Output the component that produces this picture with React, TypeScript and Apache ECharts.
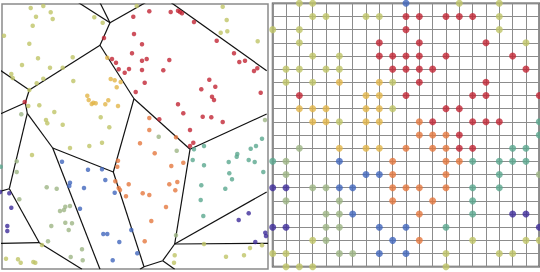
import React, { useEffect, useRef } from "react";
import * as echarts from "echarts";

// ---------- Left panel: clustered points (pixel-like data units) ----------
const leftYellowGreen: number[][] = [
  [30.7, 8], [43.3, 6], [50.7, 12.3], [36, 16.7], [52.7, 19], [32.7, 25.7], [4, 35.7], [29.3, 43.7],
  [38, 58.3], [22, 65], [50, 67.7], [62.7, 67.7], [72.7, 57.3], [11.3, 74], [12.7, 78], [43.3, 78.7],
  [36.7, 83.3], [73.3, 81], [29.3, 90], [28.3, 106], [39.3, 105.3], [94.3, 17.3], [102.7, 22.7],
  [54.3, 112], [46, 120], [47.3, 123.3], [62.7, 124.7], [100.7, 117.3], [109.3, 127.3],
  [222.7, 6.7], [226.7, 20], [220.7, 32.7], [227.3, 31.3], [257.7, 41.3], [136.7, 6],
  [32, 155], [70, 148], [89.3, 146], [102, 142.7], [42, 245], [6, 258.7], [18, 259.3], [20.7, 262.7],
  [33.3, 262], [35.3, 262.7], [204, 244], [226, 256.7], [244, 255.3], [250, 248], [262, 245.3],
  [174.7, 255.3], [174, 262.7]
];
const leftGold: number[][] = [
  [87.3, 95.7], [88.7, 100], [91.7, 104], [93.3, 102.7], [95.7, 103.3], [105.3, 104.3], [108.3, 100.3],
  [118, 106], [110.7, 79], [114.7, 80.3], [116.7, 87.3], [120.7, 82], [107.3, 57.7]
];
const leftRed: number[][] = [
  [133.3, 16.7], [149.3, 11.3], [170.7, 12], [178, 10.7], [180, 12], [182, 13.3], [194, 22], [134, 34],
  [104, 38], [142, 44.3], [132, 53.3], [142, 60.7], [146.7, 59], [112, 59], [116, 62.7], [169.3, 60],
  [118.7, 69.3], [124.7, 72.7], [129, 69], [142, 70], [163.3, 70.3], [144.7, 82.7], [135.7, 92],
  [216.7, 40.7], [234, 53.3], [239.3, 62], [245, 60.7], [254, 71], [257.3, 68.3], [209.3, 79.7],
  [215.3, 86.7], [201.3, 89.3], [212, 96.7], [214, 100], [260.7, 92.7], [178, 104.3], [183.3, 113.3],
  [202.7, 116.7], [211.3, 117.3], [222.7, 122], [159.3, 119.3], [190, 130], [24.7, 102],
  [190, 146], [193.3, 142.7]
];
const leftOrange: number[][] = [
  [149.3, 118], [149.3, 130], [140, 143.3], [154.7, 153.3], [118, 160.7], [117.3, 166.7], [115.3, 181.3],
  [118.7, 188], [120, 190], [126, 196.3], [128.7, 184.3], [142.7, 193.3], [149.3, 195], [171.3, 166],
  [169.3, 184.3], [177.3, 182], [175.3, 190.3], [166, 207], [151.3, 221], [144.7, 241.3], [183.3, 162.7],
  [176, 137.3]
];
const leftGrayGreen: number[][] = [
  [21.3, 114.3], [16.7, 161.3], [16.7, 172], [46.7, 187.3], [56.7, 188.7], [19.3, 199.3], [65.3, 206.7],
  [70, 206], [64, 210], [60, 211], [65.3, 222.7], [72, 223.3], [51.3, 226], [68.7, 230], [48, 241.3],
  [82, 249.3], [70.7, 257], [82.7, 260.3], [176.7, 150.7], [158.7, 136.7], [176, 235.3], [265, 120]
];
const leftBlue: number[][] = [
  [62, 161.7], [88, 169.7], [102, 169.3], [105.3, 180], [70, 182.7], [69.3, 186], [84, 188], [114.7, 192.7],
  [80, 208.7], [103.3, 234], [107.3, 234], [119.3, 242], [131.3, 230], [112.7, 260.3], [137.3, 253.3]
];
const leftTeal: number[][] = [
  [0.7, 166.7], [204, 146], [194, 149.3], [192.7, 160], [204, 165.3], [237.3, 154], [236.7, 156.7],
  [228.7, 162], [250.7, 148.7], [256, 146], [248.7, 160], [254.7, 162], [262, 138.7], [229.3, 173.3],
  [232, 179.3], [263.3, 172], [201.3, 185.3], [225.3, 188.7], [200.7, 200], [203.3, 216]
];
const leftPurple: number[][] = [
  [0, 192], [9.3, 193.3], [11.3, 207.7], [7.3, 226], [7.3, 231], [238.7, 220], [248.7, 213.3],
  [265.3, 232.7], [266, 236], [255.3, 242]
];

// Voronoi edges [x1, y1, x2, y2]
const voronoiEdges: number[][] = [
  [78.7, 2.7, 110, 22.7], [100, 2.7, 110, 22.7], [110, 22.7, 145.3, 2.7], [110, 22.7, 100, 45.3],
  [100, 45.3, 29.3, 90], [0, 70, 29.3, 90], [29.3, 90, 25.3, 102.7], [25.3, 102.7, 0, 114],
  [25.3, 102.7, 27.3, 113.3], [27.3, 113.3, 9.3, 188.7], [9.3, 188.7, 0, 191.5],
  [27.3, 113.3, 52.7, 148], [52.7, 148, 113.3, 172], [52.7, 148, 100, 269.3],
  [113.3, 172, 134, 98.7], [100, 45.3, 134, 98.7], [134, 98.7, 190, 149.3],
  [190, 149.3, 266.7, 114], [190, 149.3, 174.7, 244], [174.7, 244, 266.7, 192],
  [174.7, 244, 268, 243.3], [174.7, 244, 162.7, 260.7], [162.7, 260.7, 174.7, 269.3],
  [162.7, 260.7, 144, 266.7], [144, 266.7, 113.3, 172], [144, 266.7, 140, 269.3],
  [171.3, 2.7, 266.7, 70.7], [0, 243.3, 39.3, 242.7], [9.3, 188.7, 39.3, 242.7],
  [39.3, 242.7, 82, 269.3]
];

// ---------- Right panel: grid cells [column, row] ----------
const gridYellowGreen: number[][] = [
  [2, 0], [3, 0], [14, 0], [17, 0], [3, 1], [4, 1], [7, 1], [8, 1], [17, 1], [0, 2], [2, 2], [17, 2],
  [2, 3], [19, 3], [3, 4], [5, 4], [1, 5], [2, 5], [4, 5], [5, 5], [1, 6], [3, 6], [9, 6], [9, 8], [5, 9],
  [3, 18], [15, 18], [19, 18], [20, 18], [0, 19], [1, 19], [13, 19], [17, 19], [18, 19],
  [1, 20], [2, 20], [3, 20], [13, 20]
];
const gridGold: number[][] = [
  [5, 6], [8, 6], [7, 7], [8, 7], [2, 8], [3, 8], [4, 8], [7, 8], [8, 8], [3, 9], [4, 9], [7, 9], [8, 9],
  [5, 11], [7, 11], [8, 11]
];
const gridRed: number[][] = [
  [10, 1], [11, 1], [13, 1], [14, 1], [15, 1], [10, 2], [8, 3], [11, 3], [16, 3],
  [8, 4], [9, 4], [10, 4], [11, 4], [13, 4], [18, 4], [9, 5], [10, 5], [11, 5], [12, 5], [19, 5],
  [11, 6], [16, 6], [2, 7], [10, 7], [15, 7], [16, 7], [20, 7], [13, 8], [14, 8],
  [12, 9], [15, 9], [16, 9], [17, 9], [14, 10], [14, 11], [15, 11]
];
const gridBlue: number[][] = [
  [10, 0], [5, 12], [7, 13], [8, 13], [5, 14], [6, 14], [6, 16], [8, 17], [10, 17], [9, 18], [8, 19], [10, 19]
];
const gridOrange: number[][] = [
  [11, 9], [11, 10], [12, 10], [13, 10], [10, 11], [12, 11], [13, 11], [9, 12], [13, 12], [14, 12],
  [9, 13], [13, 13], [9, 14], [10, 14], [11, 14], [13, 14], [9, 15], [12, 15], [11, 16], [11, 18]
];
const gridTeal: number[][] = [
  [20, 9], [20, 10], [18, 11], [19, 11], [0, 12], [15, 12], [17, 12], [18, 12], [19, 12], [17, 13],
  [15, 14], [17, 14], [15, 15], [15, 16], [13, 17]
];
const gridPurple: number[][] = [
  [0, 14], [1, 14], [18, 16], [19, 16], [0, 17], [1, 17], [20, 17]
];
const gridGrayGreen: number[][] = [
  [2, 11], [1, 12], [1, 13], [20, 13], [3, 14], [4, 14], [1, 15], [5, 15], [4, 16], [5, 16],
  [4, 17], [5, 17], [4, 18], [5, 19], [6, 19]
];

const COLORS = {
  yg: "#bfc466",
  gold: "#e2b549",
  red: "#c22634",
  orange: "#e5783f",
  grayGreen: "#9db585",
  blue: "#4166bd",
  teal: "#5aa88f",
  purple: "#3d2c9a",
};

export default function App() {
  const ref = useRef<HTMLDivElement>(null);
  useEffect(() => {
    document.body.style.margin = "0";
    if (!ref.current) return;
    const chart = echarts.init(ref.current, null, { renderer: "svg" });

    const leftSeries = (data: number[][], color: string) => ({
      type: "scatter",
      xAxisIndex: 0,
      yAxisIndex: 0,
      data,
      symbolSize: 4.5,
      clip: false,
      itemStyle: { color },
      z: 3,
    });
    const rightSeries = (data: number[][], color: string) => ({
      type: "scatter",
      xAxisIndex: 1,
      yAxisIndex: 1,
      data,
      symbolSize: 7,
      clip: false,
      itemStyle: { color },
      z: 3,
    });

    const hidden = {
      axisLabel: { show: false },
      axisTick: { show: false },
      axisLine: { show: false },
    };

    chart.setOption({
      animation: false,
      backgroundColor: "#ffffff",
      grid: [
        { left: 2, top: 4, width: 266, height: 265, show: true, borderColor: "#8a8a8a", borderWidth: 1.5, backgroundColor: "transparent" },
        { left: 272.7, top: 3.3, width: 266.6, height: 263.4, show: true, borderColor: "#4a4a4a", borderWidth: 1.8, backgroundColor: "transparent" },
      ],
      xAxis: [
        { type: "value", gridIndex: 0, min: 2, max: 268, splitLine: { show: false }, ...hidden },
        { type: "value", gridIndex: 1, min: 0, max: 20, interval: 1, splitLine: { show: true, lineStyle: { color: "#8c8c8c", width: 1 } }, ...hidden },
      ],
      yAxis: [
        { type: "value", gridIndex: 0, min: 4, max: 269, inverse: true, splitLine: { show: false }, ...hidden },
        { type: "value", gridIndex: 1, min: 0, max: 20, interval: 1, inverse: true, splitLine: { show: true, lineStyle: { color: "#8c8c8c", width: 1 } }, ...hidden },
      ],
      series: [
        {
          type: "lines",
          coordinateSystem: "cartesian2d",
          xAxisIndex: 0,
          yAxisIndex: 0,
          data: voronoiEdges.map((e) => ({ coords: [[e[0], e[1]], [e[2], e[3]]] })),
          lineStyle: { color: "#111111", width: 1.2, opacity: 1 },
          silent: true,
          z: 2,
        },
        leftSeries(leftYellowGreen, COLORS.yg),
        leftSeries(leftGold, COLORS.gold),
        leftSeries(leftRed, COLORS.red),
        leftSeries(leftOrange, COLORS.orange),
        leftSeries(leftGrayGreen, COLORS.grayGreen),
        leftSeries(leftBlue, COLORS.blue),
        leftSeries(leftTeal, COLORS.teal),
        leftSeries(leftPurple, COLORS.purple),
        rightSeries(gridYellowGreen, COLORS.yg),
        rightSeries(gridGold, COLORS.gold),
        rightSeries(gridRed, COLORS.red),
        rightSeries(gridOrange, COLORS.orange),
        rightSeries(gridGrayGreen, COLORS.grayGreen),
        rightSeries(gridBlue, COLORS.blue),
        rightSeries(gridTeal, COLORS.teal),
        rightSeries(gridPurple, COLORS.purple),
      ],
    });
    return () => chart.dispose();
  }, []);
  return <div ref={ref} style={{ position: "absolute", left: 0, top: 0, width: 540, height: 272 }} />;
}
